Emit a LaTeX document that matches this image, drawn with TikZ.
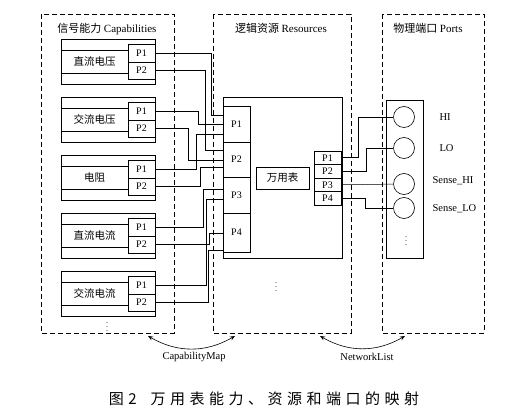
\documentclass[tikz,border=0pt]{standalone}
\usepackage{fontspec}
\setmainfont{Liberation Serif}
\newfontfamily\cjk{Noto Sans CJK SC}
\newfontfamily\capfont[LetterSpace=30]{Noto Sans CJK SC}
\usetikzlibrary{positioning,arrows.meta}

\begin{document}
\begin{tikzpicture}[x=1pt, y=-1pt,
  panel/.style={draw, dash pattern=on 5pt off 3pt, line width=0.6pt},
  capbox/.style={draw, rectangle, minimum width=94pt, minimum height=45pt, inner sep=0pt, line width=0.6pt},
  portcell/.style={draw, rectangle, minimum width=27pt, inner sep=0pt, line width=0.6pt, font=\fontsize{10}{11}\selectfont},
  lbl/.style={font=\cjk\fontsize{10.5}{12}\selectfont},
  title/.style={font=\cjk\fontsize{11}{12}\selectfont},
  txt/.style={font=\fontsize{10.5}{12}\selectfont},
  dots/.style={font=\fontsize{8}{8}\selectfont, inner sep=0pt},
  wire/.style={line width=0.5pt},
  port/.style={draw, circle, minimum size=21pt, inner sep=0pt, line width=0.6pt},
  maparrow/.style={{Stealth[length=5pt,width=4pt]}-{Stealth[length=5pt,width=4pt]}, line width=0.6pt}]

  \useasboundingbox (0,0) rectangle (524,419);

  % Panel bergaris putus-putus
  \draw[panel] (41,14) rectangle (174,333);
  \draw[panel] (213,14) rectangle (351,333);
  \draw[panel] (382,14) rectangle (484,333);
  \node[title] (captitle) at (107,29) {信号能力 {\rmfamily Capabilities}};
  \node[title] (restitle) at (281,28) {逻辑资源 {\rmfamily Resources}};
  \node[title] (porttitle) at (428,28) {物理端口 {\rmfamily Ports}};

  % Kotak kemampuan
  \node[capbox] (dcv) at (108,61.5) {};
  \node[lbl] (dcvname) at (94.5,61.5) {直流电压};
  \node[portcell, minimum height=18pt] (dcvp1) at (141.5,53) {P1};
  \node[portcell, minimum height=17pt] (dcvp2) at (141.5,70.5) {P2};
  \draw[line width=0.6pt] (61,50) -- (dcvp1.west |- 0,50) (61,73) -- (dcvp2.west |- 0,73);

  \node[capbox] (acv) at (108,119.5) {};
  \node[lbl] (acvname) at (94.5,119.5) {交流电压};
  \node[portcell, minimum height=18pt] (acvp1) at (141.5,111) {P1};
  \node[portcell, minimum height=17pt] (acvp2) at (141.5,128.5) {P2};
  \draw[line width=0.6pt] (61,108) -- (acvp1.west |- 0,108) (61,131) -- (acvp2.west |- 0,131);

  \node[capbox] (ohm) at (108,177.5) {};
  \node[lbl] (ohmname) at (94.5,177.5) {电阻};
  \node[portcell, minimum height=18pt] (ohmp1) at (141.5,169) {P1};
  \node[portcell, minimum height=17pt] (ohmp2) at (141.5,186.5) {P2};
  \draw[line width=0.6pt] (61,166) -- (ohmp1.west |- 0,166) (61,189) -- (ohmp2.west |- 0,189);

  \node[capbox] (dci) at (108,235.5) {};
  \node[lbl] (dciname) at (94.5,235.5) {直流电流};
  \node[portcell, minimum height=18pt] (dcip1) at (141.5,227) {P1};
  \node[portcell, minimum height=17pt] (dcip2) at (141.5,244.5) {P2};
  \draw[line width=0.6pt] (61,224) -- (dcip1.west |- 0,224) (61,247) -- (dcip2.west |- 0,247);

  \node[capbox] (aci) at (108,293.5) {};
  \node[lbl] (aciname) at (94.5,293.5) {交流电流};
  \node[portcell, minimum height=18pt] (acip1) at (141.5,285) {P1};
  \node[portcell, minimum height=17pt] (acip2) at (141.5,302.5) {P2};
  \draw[line width=0.6pt] (61,282) -- (acip1.west |- 0,282) (61,305) -- (acip2.west |- 0,305);

  \node[dots] (capdots) at (107,324) {$\vdots$};

  % Blok multimeter
  \node[draw, rectangle, minimum width=119pt, minimum height=161pt, line width=0.6pt] (mm) at (282.5,177.5) {};
  \node[draw, rectangle, minimum width=53pt, minimum height=22pt, inner sep=0pt, line width=0.6pt, lbl] (mmname) at (282.5,178) {万用表};
  \node[portcell, minimum height=36pt] (resp1) at (236.5,124) {P1};
  \node[portcell, minimum height=35pt] (resp2) at (236.5,159.5) {P2};
  \node[portcell, minimum height=36pt] (resp3) at (236.5,195) {P3};
  \node[portcell, minimum height=39pt] (resp4) at (236.5,232.5) {P4};
  \node[portcell, minimum height=13.5pt] (resq1) at (327.5,157.75) {P1};
  \node[portcell, minimum height=13.5pt] (resq2) at (327.5,171.25) {P2};
  \node[portcell, minimum height=13.5pt] (resq3) at (327.5,184.75) {P3};
  \node[portcell, minimum height=13.5pt] (resq4) at (327.5,198.25) {P4};
  \node[dots] (resdots) at (276,284) {$\vdots$};

  % Terminal fisik
  \node[draw, rectangle, minimum width=37pt, minimum height=158pt, line width=0.6pt] (portbox) at (404.5,179) {};
  \node[port] (hi) at (404,117) {};
  \node[port] (lo) at (404,148) {};
  \node[port] (shi) at (404,184) {};
  \node[port] (slo) at (404,208) {};
  \node[txt, anchor=west] (hiname) at (436,117) {HI};
  \node[txt, anchor=west] (loname) at (436,148) {LO};
  \node[txt, anchor=west] (shiname) at (429,181) {Sense\_HI};
  \node[txt, anchor=west] (sloname) at (429,209) {Sense\_LO};
  \node[dots] (portdots) at (406,238) {$\vdots$};

  % Kabel kemampuan ke sumber daya
  \draw[wire] (dcvp1.east) -| (211,115) -- (resp1.west |- 0,115);
  \draw[wire] (dcvp2.east) -| (205,150) -- (resp2.west |- 0,150);
  \draw[wire] (acvp1.east) -| (198,124) -- (resp1.west |- 0,124);
  \draw[wire] (acvp2.east) -| (188,160) -- (resp2.west |- 0,160);
  \draw[wire] (ohmp1.east) -| (196,134) -- (resp1.west |- 0,134);
  \draw[wire] (ohmp2.east) -| (200,167) -- (resp2.west |- 0,167);
  \draw[wire] (dcip1.east) -| (203,189) -- (resp3.west |- 0,189);
  \draw[wire] (dcip2.east) -| (209,233) -- (resp4.west |- 0,233);
  \draw[wire] (acip1.east) -| (206,199) -- (resp3.west |- 0,199);
  \draw[wire] (acip2.east) -| (208,250) -- (resp4.west |- 0,250);

  % Kabel sumber daya ke terminal
  \draw[wire] (resq1.east) -| (358,117) -- (hi.west);
  \draw[wire] (resq2.east) -| (366,148) -- (lo.west);
  \draw[wire] (resq3.east) -- (shi);
  \draw[wire] (resq4.east) -| (365,208) -- (slo.west);

  % Panah pemetaan
  \coordinate (cmleft) at (148,336);
  \coordinate (cmright) at (235,336);
  \coordinate (nlleft) at (320,336);
  \coordinate (nlright) at (405,336);
  \draw[maparrow] (cmleft) to[bend right=30] (cmright);
  \draw[maparrow] (nlleft) to[bend right=30] (nlright);
  \node[txt] (cmname) at (194,357) {CapabilityMap};
  \node[txt] (nlname) at (367,357) {NetworkList};

  \node[font=\capfont\fontsize{15}{18}\selectfont] (caption) at (264,399) {图2\hspace{14pt}万用表能力、资源和端口的映射};

\end{tikzpicture}
\end{document}
